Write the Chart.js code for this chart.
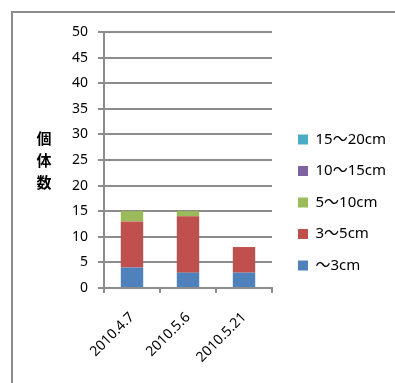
<!DOCTYPE html>
<html lang="ja">
<head>
  <meta charset="UTF-8">
  <title>個体数</title>
  <script src="https://cdn.jsdelivr.net/npm/chart.js"></script>
  <style>
    body {
      margin: 0;
      background: #fff;
      overflow: hidden;
    }

    .wrap {
      position: relative;
      width: 395px;
      height: 383px;
    }

    .frame {
      position: absolute;
      left: 11px;
      top: 11px;
      width: 400px;
      height: 400px;
      border-top: 2px solid #8c8c8c;
      border-left: 2px solid #8c8c8c;
    }

    canvas {
      position: absolute;
      left: 0;
      top: 0;
    }
  </style>
</head>
<body>
  <div class="wrap">
    <div class="frame"></div>
    <canvas id="sizeChart" width="395" height="383"></canvas>
  </div>

  <script>
    const dates = ['2010.4.7', '2010.5.6', '2010.5.21'];

    const sizeLabels = ['～3cm', '3～5cm', '5～10cm', '10～15cm', '15～20cm'];
    const under3 = [4, 3, 3];
    const from3to5 = [9, 11, 5];
    const from5to10 = [2, 1, 0];
    const from10to15 = [0, 0, 0];
    const from15to20 = [0, 0, 0];

    const yTicks = [0, 5, 10, 15, 20, 25, 30, 35, 40, 45, 50];
    const yTitle = ['個', '体', '数'];

    const colors = ['#4F81BD', '#C0504D', '#9BBB59', '#8064A2', '#4BACC6'];
    const gridColor = '#8c8c8c';
    const fontFamily = "'Noto Sans', 'Noto Sans CJK JP', sans-serif";

    // legend sits right of the plot, boxes start at x=298
    const legendPlacement = {
      id: 'legendPlacement',
      afterLayout(chart) {
        const lg = chart.legend;
        const pad = lg.options.labels.padding;
        lg.left = 298 - pad;
        lg.right = 395;
        lg.top = 132 - pad;
        lg.bottom = 383;
      }
    };

    // vertical stacked axis title
    const stackedTitle = {
      id: 'stackedTitle',
      afterDraw(chart) {
        const ctx = chart.ctx;
        ctx.save();
        ctx.font = "bold 15px 'Noto Sans CJK JP'";
        ctx.fillStyle = '#000';
        ctx.textAlign = 'center';
        ctx.textBaseline = 'middle';
        yTitle.forEach((ch, i) => ctx.fillText(ch, 44, 138 + i * 22));
        ctx.restore();
      }
    };

    function makeSet(label, data, color) {
      return {
        label: label,
        data: data,
        backgroundColor: color,
        borderWidth: 0,
        barPercentage: 0.4,
        categoryPercentage: 1.0
      };
    }

    window.onload = () => {
      new Chart(document.getElementById('sizeChart').getContext('2d'), {
        type: 'bar',
        data: {
          labels: dates,
          datasets: [
            makeSet(sizeLabels[0], under3, colors[0]),
            makeSet(sizeLabels[1], from3to5, colors[1]),
            makeSet(sizeLabels[2], from5to10, colors[2]),
            makeSet(sizeLabels[3], from10to15, colors[3]),
            makeSet(sizeLabels[4], from15to20, colors[4])
          ]
        },
        options: {
          responsive: false,
          animation: false,
          layout: {
            padding: { left: 0, top: 32, right: 123, bottom: 0 }
          },
          plugins: {
            legend: {
              position: 'chartArea',
              align: 'start',
              reverse: true,
              labels: {
                boxWidth: 10,
                boxHeight: 10,
                padding: 16.5,
                color: '#000',
                font: { family: fontFamily, size: 15 }
              }
            },
            tooltip: { enabled: false }
          },
          scales: {
            x: {
              stacked: true,
              afterFit: scale => { scale.height = 95; },
              grid: {
                drawOnChartArea: false,
                color: gridColor,
                lineWidth: 2,
                tickLength: 5
              },
              border: { color: gridColor, width: 2 },
              ticks: {
                color: '#000',
                minRotation: 45,
                maxRotation: 45,
                padding: 16,
                font: { family: fontFamily, size: 14 }
              }
            },
            y: {
              stacked: true,
              min: 0,
              max: 50,
              afterFit: scale => { scale.width = 104; },
              afterBuildTicks: scale => {
                scale.ticks = yTicks.map(v => ({ value: v }));
              },
              grid: {
                color: gridColor,
                lineWidth: 2,
                tickLength: 6
              },
              border: { color: gridColor, width: 2 },
              ticks: {
                color: '#000',
                padding: 10,
                font: { family: fontFamily, size: 14 }
              }
            }
          }
        },
        plugins: [legendPlacement, stackedTitle]
      });
    };
  </script>
</body>
</html>
